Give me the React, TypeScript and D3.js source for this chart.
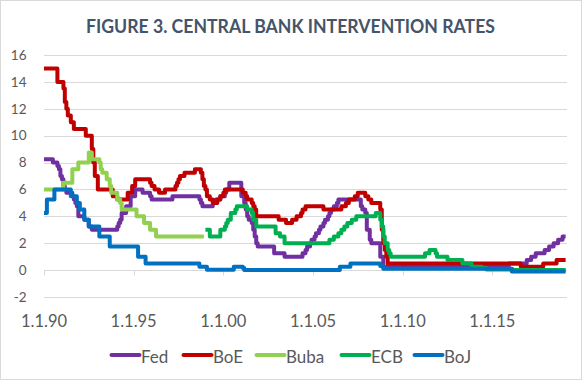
import React from "react";
import * as d3 from "d3";

// ---- data (policy-rate change points, "YYYY-MM", %) ----
const fed: [string, number][] = [
  ["1990-01", 8.25], ["1990-07", 8.0], ["1990-10", 7.75], ["1990-11", 7.5], ["1990-12", 7.0],
  ["1991-01", 6.75], ["1991-02", 6.25], ["1991-03", 6.0], ["1991-04", 5.75], ["1991-08", 5.5],
  ["1991-09", 5.25], ["1991-10", 5.0], ["1991-11", 4.75], ["1991-12", 4.0], ["1992-04", 3.75],
  ["1992-07", 3.25], ["1992-09", 3.0], ["1994-02", 3.25], ["1994-03", 3.5], ["1994-04", 3.75],
  ["1994-05", 4.25], ["1994-08", 4.75], ["1994-11", 5.5], ["1995-02", 6.0], ["1995-07", 5.75],
  ["1995-12", 5.5], ["1996-01", 5.25], ["1997-03", 5.5], ["1998-09", 5.25], ["1998-10", 5.0],
  ["1998-11", 4.75], ["1999-06", 5.0], ["1999-08", 5.25], ["1999-11", 5.5], ["2000-02", 5.75],
  ["2000-03", 6.0], ["2000-05", 6.5], ["2001-01", 5.5], ["2001-03", 5.0], ["2001-04", 4.5],
  ["2001-05", 4.0], ["2001-06", 3.75], ["2001-08", 3.5], ["2001-09", 3.0], ["2001-10", 2.5],
  ["2001-11", 2.0], ["2001-12", 1.75], ["2002-11", 1.25], ["2003-06", 1.0], ["2004-06", 1.25],
  ["2004-08", 1.5], ["2004-09", 1.75], ["2004-11", 2.0], ["2004-12", 2.25], ["2005-02", 2.5],
  ["2005-03", 2.75], ["2005-05", 3.0], ["2005-06", 3.25], ["2005-08", 3.5], ["2005-09", 3.75],
  ["2005-11", 4.0], ["2005-12", 4.25], ["2006-01", 4.5], ["2006-03", 4.75], ["2006-05", 5.0],
  ["2006-06", 5.25], ["2007-09", 4.75], ["2007-10", 4.5], ["2007-12", 4.25], ["2008-01", 3.0],
  ["2008-03", 2.25], ["2008-04", 2.0], ["2008-10", 1.0], ["2008-12", 0.25], ["2015-12", 0.5],
  ["2016-12", 0.75], ["2017-03", 1.0], ["2017-06", 1.25], ["2017-12", 1.5], ["2018-03", 1.75],
  ["2018-06", 2.0], ["2018-09", 2.25], ["2018-12", 2.5], ["2019-02", 2.5],
];

const boe: [string, number][] = [
  ["1990-01", 15.0], ["1990-10", 14.0], ["1991-02", 13.5], ["1991-03", 12.5], ["1991-04", 12.0],
  ["1991-05", 11.5], ["1991-07", 11.0], ["1991-09", 10.5], ["1992-05", 10.0], ["1992-09", 9.0],
  ["1992-10", 8.0], ["1992-11", 7.0], ["1993-01", 6.0], ["1993-11", 5.5], ["1994-02", 5.25],
  ["1994-09", 5.75], ["1994-12", 6.25], ["1995-02", 6.75], ["1995-12", 6.5], ["1996-01", 6.25],
  ["1996-03", 6.0], ["1996-06", 5.75], ["1996-10", 6.0], ["1997-05", 6.25], ["1997-06", 6.5],
  ["1997-07", 6.75], ["1997-08", 7.0], ["1997-11", 7.25], ["1998-06", 7.5], ["1998-10", 7.25],
  ["1998-11", 6.75], ["1998-12", 6.25], ["1999-01", 6.0], ["1999-02", 5.5], ["1999-04", 5.25],
  ["1999-06", 5.0], ["1999-09", 5.25], ["1999-11", 5.5], ["2000-01", 5.75], ["2000-02", 6.0],
  ["2001-02", 5.75], ["2001-04", 5.5], ["2001-05", 5.25], ["2001-08", 5.0], ["2001-09", 4.75],
  ["2001-10", 4.5], ["2001-11", 4.0], ["2003-02", 3.75], ["2003-07", 3.5], ["2003-11", 3.75],
  ["2004-02", 4.0], ["2004-05", 4.25], ["2004-06", 4.5], ["2004-08", 4.75], ["2005-08", 4.5],
  ["2006-08", 4.75], ["2006-11", 5.0], ["2007-01", 5.25], ["2007-05", 5.5], ["2007-07", 5.75],
  ["2007-12", 5.5], ["2008-02", 5.25], ["2008-04", 5.0], ["2008-10", 4.5], ["2008-11", 3.0],
  ["2008-12", 2.0], ["2009-01", 1.5], ["2009-02", 1.0], ["2009-03", 0.5], ["2016-08", 0.25],
  ["2017-11", 0.5], ["2018-08", 0.75], ["2019-02", 0.75],
];

const buba: [string, number][] = [
  ["1990-01", 6.0], ["1991-02", 6.5], ["1991-08", 7.5], ["1991-12", 8.0], ["1992-07", 8.75],
  ["1992-09", 8.25], ["1993-02", 8.0], ["1993-03", 7.5], ["1993-04", 7.25], ["1993-07", 6.75],
  ["1993-09", 6.25], ["1993-10", 5.75], ["1994-02", 5.25], ["1994-04", 5.0], ["1994-05", 4.5],
  ["1995-03", 4.0], ["1995-08", 3.5], ["1995-12", 3.0], ["1996-04", 2.5], ["1998-12", 2.5],
];

const ecb: [string, number][] = [
  ["1999-01", 3.0], ["1999-04", 2.5], ["1999-11", 3.0], ["2000-02", 3.25], ["2000-03", 3.5],
  ["2000-04", 3.75], ["2000-06", 4.25], ["2000-09", 4.5], ["2000-10", 4.75], ["2001-05", 4.5],
  ["2001-08", 4.25], ["2001-09", 3.75], ["2001-11", 3.25], ["2002-12", 2.75], ["2003-03", 2.5],
  ["2003-06", 2.0], ["2005-12", 2.25], ["2006-03", 2.5], ["2006-06", 2.75], ["2006-08", 3.0],
  ["2006-10", 3.25], ["2006-12", 3.5], ["2007-03", 3.75], ["2007-06", 4.0], ["2008-07", 4.25],
  ["2008-10", 3.75], ["2008-11", 3.25], ["2008-12", 2.5], ["2009-01", 2.0], ["2009-03", 1.5],
  ["2009-04", 1.25], ["2009-05", 1.0], ["2011-04", 1.25], ["2011-07", 1.5], ["2011-11", 1.25],
  ["2011-12", 1.0], ["2012-07", 0.75], ["2013-05", 0.5], ["2013-11", 0.25], ["2014-06", 0.15],
  ["2014-09", 0.05], ["2016-03", 0.0], ["2019-02", 0.0],
];

const boj: [string, number][] = [
  ["1990-01", 4.25], ["1990-03", 5.25], ["1990-08", 6.0], ["1991-07", 5.5], ["1991-11", 5.0],
  ["1992-01", 4.5], ["1992-04", 3.75], ["1992-07", 3.25], ["1993-02", 2.5], ["1993-09", 1.75],
  ["1995-04", 1.0], ["1995-09", 0.5], ["1998-09", 0.25], ["1999-02", 0.03], ["2000-08", 0.25],
  ["2001-02", 0.15], ["2001-03", 0.0], ["2006-07", 0.25], ["2007-02", 0.5], ["2008-10", 0.3],
  ["2008-12", 0.1], ["2016-02", -0.1], ["2019-02", -0.1],
];

const seriesNames = ["Fed", "BoE", "Buba", "ECB", "BoJ"];
const seriesData = [fed, boe, buba, ecb, boj];
const seriesColors = ["#7030A0", "#C00000", "#92D050", "#00B050", "#0070C0"];
const xTickYears = [1990, 1995, 2000, 2005, 2010, 2015];
const yTicks = [-2, 0, 2, 4, 6, 8, 10, 12, 14, 16];
const title = "FIGURE 3. CENTRAL BANK INTERVENTION RATES";

const W = 582;
const H = 380;

export default function App() {
  const parse = d3.timeParse("%Y-%m");
  const x = d3
    .scaleTime()
    .domain([new Date(1990, 0, 1), new Date(2019, 2, 1)])
    .range([44, 567]);
  const y = d3.scaleLinear().domain([-2, 16]).range([297, 55]);

  const line = d3
    .line<[Date, number]>()
    .x((d) => x(d[0]))
    .y((d) => y(d[1]))
    .curve(d3.curveStepAfter);

  const legendStarts = [111.5, 183.5, 256.5, 341.5, 414.5];
  const font = "Lato, 'Open Sans', sans-serif";

  return (
    <svg
      width={W}
      height={H}
      style={{ position: "absolute", left: 0, top: 0, background: "#fff" }}
    >
      <rect x={0.5} y={0.5} width={W - 1} height={H - 1} fill="#fff" stroke="#D9D9D9" />
      <text
        x={290.5}
        y={33.4}
        textAnchor="middle"
        fontFamily={font}
        fontWeight={700}
        fontSize={18}
        fill="#44546A"
        textLength={409}
        lengthAdjust="spacingAndGlyphs"
      >
        {title}
      </text>

      {/* gridlines */}
      {yTicks.map((t) => (
        <line
          key={t}
          x1={44}
          x2={567}
          y1={Math.round(y(t)) + 0.5}
          y2={Math.round(y(t)) + 0.5}
          stroke="#D9D9D9"
          strokeWidth={1}
        />
      ))}
      {/* x tick marks on zero axis */}
      {xTickYears.map((yr) => {
        const xx = Math.round(x(new Date(yr, 0, 1))) + 0.5;
        return (
          <line
            key={yr}
            x1={xx}
            x2={xx}
            y1={Math.round(y(0)) + 0.5}
            y2={Math.round(y(0)) + 5.5}
            stroke="#D9D9D9"
          />
        );
      })}

      {/* y labels */}
      {yTicks.map((t) => (
        <text
          key={t}
          x={26.5}
          y={y(t) + 4.8}
          textAnchor="end"
          fontFamily={font}
          fontSize={13.5}
          fill="#595959"
        >
          {t}
        </text>
      ))}

      {/* x labels */}
      {xTickYears.map((yr) => (
        <text
          key={yr}
          x={x(new Date(yr, 0, 1))}
          y={326.7}
          textAnchor="middle"
          fontFamily={font}
          fontSize={16.5}
          fill="#595959"
        >
          {`1.1.${String(yr % 100).padStart(2, "0")}`}
        </text>
      ))}

      {/* series */}
      {seriesData.map((s, i) => {
        const pts: [Date, number][] = s.map((d) => [parse(d[0]) as Date, d[1]]);
        return (
          <path
            key={seriesNames[i]}
            d={line(pts) || ""}
            fill="none"
            stroke={seriesColors[i]}
            strokeWidth={4}
            strokeLinejoin="round"
            strokeLinecap="butt"
          />
        );
      })}

      {/* legend */}
      {seriesNames.map((n, i) => (
        <g key={n}>
          <line
            x1={legendStarts[i]}
            x2={legendStarts[i] + 28}
            y1={355}
            y2={355}
            stroke={seriesColors[i]}
            strokeWidth={4}
            strokeLinecap="round"
          />
          <text
            x={legendStarts[i] + 29.5}
            y={362.7}
            fontFamily={font}
            fontSize={17}
            fill="#595959"
          >
            {n}
          </text>
        </g>
      ))}
    </svg>
  );
}
